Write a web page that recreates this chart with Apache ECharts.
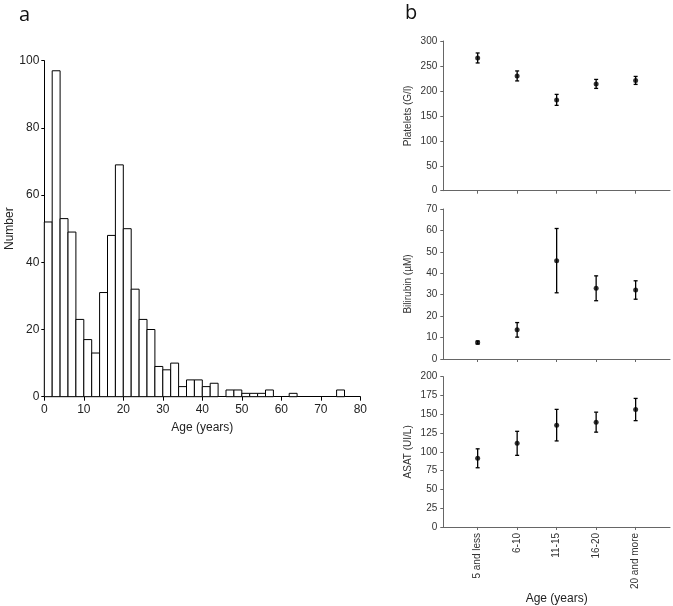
<!DOCTYPE html>
<html><head><meta charset="utf-8">
<script src="https://cdn.jsdelivr.net/npm/echarts@6/dist/echarts.min.js"></script>
<style>html,body{margin:0;padding:0;background:#fff}#c{width:673px;height:606px}</style>
</head><body><div id="c"></div>
<script>
// ---- Panel a: histogram of age ----
const binWidth = 2;
const binStarts = [0,2,4,6,8,10,12,14,16,18,20,22,24,26,28,30,32,34,36,38,40,42,44,46,48,50,52,54,56,58,60,62,64,66,68,70,72,74,76,78];
const binCounts = [52,97,53,49,23,17,13,31,48,69,50,32,23,20,9,8,10,3,5,5,3,4,0,2,2,1,1,1,2,0,0,1,0,0,0,0,0,2,0,0];

// ---- Panel b: means and errors by age group ----
const ageGroups = ['5 and less','6-10','11-15','16-20','20 and more'];
const groupPos = [1,2,3,4,5];
const plateletsMean = [266,230,182,214,221];
const plateletsErr  = [10,10,11,9,8];
const bilirubinMean = [7.7,13.6,45.9,33.0,32.2];
const bilirubinErr  = [0.7,3.4,15.0,5.8,4.3];
const asatMean = [91.4,111.3,135.5,139.5,156.3];
const asatErr  = [12.6,16.0,21.0,13.3,14.8];

const FONT = "'Liberation Sans', Arial, sans-serif";

const chart = echarts.init(document.getElementById('c'), null, {renderer:'canvas'});

function histItem(params, api){
  const x0 = api.value(0), y = api.value(1);
  if (!y) return null;
  const p0 = api.coord([x0, y]);
  const p1 = api.coord([x0 + binWidth, 0]);
  return {type:'rect', shape:{x:p0[0], y:p0[1], width:p1[0]-p0[0], height:p1[1]-p0[1]},
          style:{fill:'#fff', stroke:'#000', lineWidth:1}};
}
function errItem(params, api){
  const x = api.value(0), m = api.value(1), e = api.value(2);
  const top = api.coord([x, m + e]);
  const bot = api.coord([x, m - e]);
  const cw = 2;
  const st = {stroke:'#000', lineWidth:1.3};
  return {type:'group', children:[
    {type:'line', shape:{x1:top[0], y1:top[1], x2:bot[0], y2:bot[1]}, style:st},
    {type:'line', shape:{x1:top[0]-cw, y1:top[1], x2:top[0]+cw, y2:top[1]}, style:st},
    {type:'line', shape:{x1:bot[0]-cw, y1:bot[1], x2:bot[0]+cw, y2:bot[1]}, style:st}
  ]};
}

const rightGrids = [
  {left:443.3, top:41, width:226.7, height:149.7},
  {left:443.3, top:209, width:226.7, height:150},
  {left:443.3, top:376.7, width:226.7, height:151}
];
const rightY = [
  {name:'Platelets (G/l)', max:300, interval:50},
  {name:'Bilirubin (µM)', max:70, interval:10},
  {name:'ASAT (UI/L)', max:200, interval:25}
];
const rightMeans = [plateletsMean, bilirubinMean, asatMean];
const rightErrs = [plateletsErr, bilirubinErr, asatErr];

const grids = [{left:44.3, top:60.7, width:316, height:336}].concat(rightGrids);
const xAxes = [{
  gridIndex:0, type:'value', min:0, max:80, interval:10,
  name:'Age (years)', nameLocation:'middle', nameGap:25,
  nameTextStyle:{fontFamily:FONT, fontSize:12, color:'#222'},
  axisLine:{lineStyle:{color:'#000', width:1}},
  axisTick:{length:4, lineStyle:{color:'#000'}},
  axisLabel:{fontFamily:FONT, fontSize:12, color:'#222', margin:7},
  splitLine:{show:false}
}];
const yAxes = [{
  gridIndex:0, type:'value', min:0, max:100, interval:20,
  name:'Number', nameLocation:'middle', nameGap:29,
  nameTextStyle:{fontFamily:FONT, fontSize:12, color:'#222'},
  axisLine:{show:true, lineStyle:{color:'#000', width:1}},
  axisTick:{show:true, length:3, lineStyle:{color:'#000'}},
  axisLabel:{fontFamily:FONT, fontSize:12, color:'#222', margin:5},
  splitLine:{show:false}
}];
const series = [{
  type:'custom', xAxisIndex:0, yAxisIndex:0, renderItem:histItem,
  data: binStarts.map((s,i)=>[s, binCounts[i]]), silent:true
}];

for (let k=0;k<3;k++){
  const last = k===2;
  xAxes.push({
    gridIndex:k+1, type:'value', min:0.13, max:5.87,
    name: last ? 'Age (years)' : '', nameLocation:'middle', nameGap:61,
    nameTextStyle:{fontFamily:FONT, fontSize:12, color:'#222'},
    axisLine:{lineStyle:{color:'#666', width:1}},
    axisTick:{show:true, length:3, customValues:groupPos, lineStyle:{color:'#666'}},
    axisLabel:{show:last, customValues:groupPos, rotate:90, fontFamily:FONT, fontSize:10, color:'#333', margin:6,
      formatter:(v)=>ageGroups[Math.round(v)-1] || ''},
    splitLine:{show:false}
  });
  yAxes.push({
    gridIndex:k+1, type:'value', min:0, max:rightY[k].max, interval:rightY[k].interval,
    name:rightY[k].name, nameLocation:'middle', nameGap:30,
    nameTextStyle:{fontFamily:FONT, fontSize:10, color:'#333'},
    axisLine:{show:true, lineStyle:{color:'#666', width:1}},
    axisTick:{show:true, length:3, lineStyle:{color:'#666'}},
    axisLabel:{fontFamily:FONT, fontSize:10, color:'#333', margin:6},
    splitLine:{show:false}
  });
  series.push({
    type:'custom', xAxisIndex:k+1, yAxisIndex:k+1, renderItem:errItem, silent:true,
    data: groupPos.map((p,i)=>[p, rightMeans[k][i], rightErrs[k][i]])
  });
  series.push({
    type:'scatter', xAxisIndex:k+1, yAxisIndex:k+1, symbol:'circle', symbolSize:5,
    itemStyle:{color:'#000'}, silent:true,
    data: groupPos.map((p,i)=>[p, rightMeans[k][i]])
  });
}

chart.setOption({
  animation:false,
  backgroundColor:'#fff',
  title:[
    {text:'a', left:14, top:0, textStyle:{fontFamily:"'Open Sans', sans-serif", fontSize:20, fontWeight:'normal', color:'#111'}},
    {text:'b', left:400, top:-2, textStyle:{fontFamily:"'Open Sans', sans-serif", fontSize:20, fontWeight:'normal', color:'#111'}}
  ],
  grid:grids, xAxis:xAxes, yAxis:yAxes, series:series
});
</script>
</body></html>
